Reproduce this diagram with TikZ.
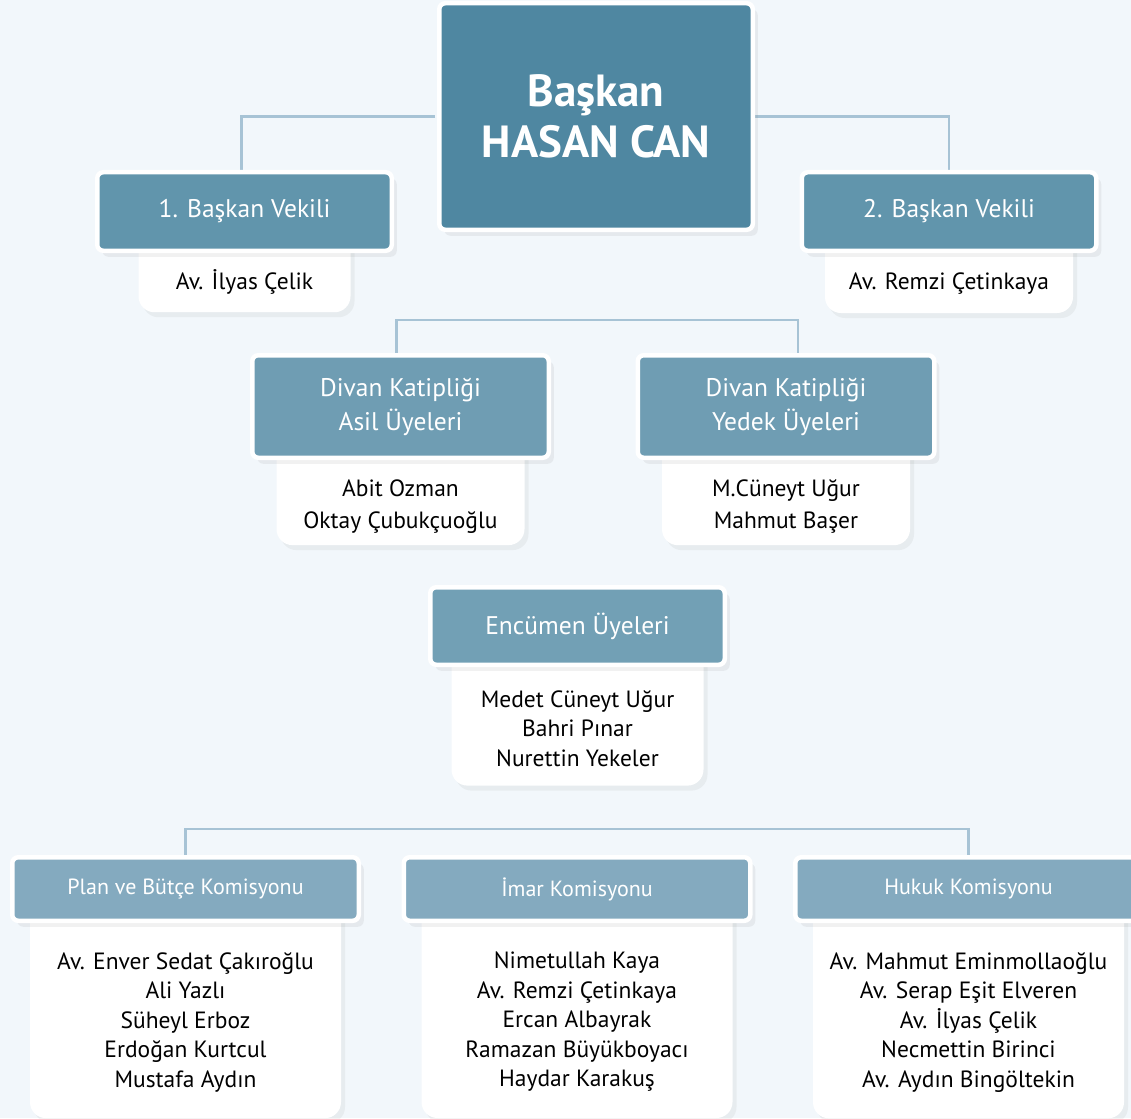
\documentclass[tikz,border=0pt]{standalone}
\usepackage{fontspec}
\setmainfont{PT Sans}
\usepackage{tikz}
\usetikzlibrary{positioning,fit,backgrounds,shadows}
\definecolor{bgblue}{HTML}{F2F7FB}
\definecolor{linkblue}{HTML}{A7C3D5}
\definecolor{chiefblue}{HTML}{4F87A1}
\definecolor{viceblue}{HTML}{6195AC}
\definecolor{clerkblue}{HTML}{6F9DB3}
\definecolor{boardblue}{HTML}{72A0B5}
\definecolor{commblue}{HTML}{84AABF}
\tikzset{
    x=1pt, y=1pt,
    head/.style = {draw=white, line width=4.5pt, rounded corners=6pt, inner sep=0pt, align=center, text=white,
        drop shadow={opacity=0.11, shadow xshift=5pt, shadow yshift=-6pt}},
    card/.style = {fill=white, rounded corners=16pt, inner xsep=0pt,
        drop shadow={opacity=0.09, shadow xshift=4pt, shadow yshift=-5pt}},
    names/.style = {inner sep=0pt, align=center, font=\fontsize{23.5}{29.5}\selectfont},
    headfont/.style = {font=\fontsize{25.5}{34}\selectfont},
    smallfont/.style = {font=\fontsize{22}{26}\selectfont},
    link/.style = {draw=linkblue, line width=2.5pt}
}

\begin{document}
\begin{tikzpicture}
    \useasboundingbox (0,0) rectangle (1131,-1118);
    % Chairman and the two deputies
    \node[head, fill=chiefblue, minimum width=313.5, minimum height=226.5, font=\fontsize{45}{51}\selectfont\bfseries] (baskan) at (596,-116.5) {Başkan\\HASAN CAN};
    \node[head, fill=viceblue, headfont, minimum width=294.5, minimum height=78.5] (vek1) at (244.5,-211.5) {1. Başkan Vekili};
    \node[head, fill=viceblue, headfont, minimum width=294.5, minimum height=78.5] (vek2) at (949,-211.5) {2. Başkan Vekili};
    \node[names] (ilyas) [below=16pt of vek1] {Av. İlyas Çelik};
    \node[names] (remzi) [below=20pt of vek2] {Av. Remzi Çetinkaya};
    % Divan clerks
    \node[head, fill=clerkblue, headfont, minimum width=296.5, minimum height=102.5] (asil) at (400.5,-406.5) {Divan Katipliği\\Asil Üyeleri};
    \node[head, fill=clerkblue, headfont, minimum width=296.5, minimum height=102.5] (yedek) at (786,-406.5) {Divan Katipliği\\Yedek Üyeleri};
    \node[names, font=\fontsize{23.5}{32}\selectfont] (asilnames) [below=20pt of asil] {Abit Ozman\\Oktay Çubukçuoğlu};
    \node[names, font=\fontsize{23.5}{32}\selectfont] (yedeknames) [below=19pt of yedek] {M.Cüneyt Uğur\\Mahmut Başer};
    % Council committee
    \node[head, fill=boardblue, headfont, minimum width=294.5, minimum height=77.5] (encumen) at (577.5,-626) {Encümen Üyeleri};
    \node[names] (encnames) [below=23pt of encumen] {Medet Cüneyt Uğur\\Bahri Pınar\\Nurettin Yekeler};
    % Commissions
    \node[head, fill=commblue, smallfont, minimum width=346.5, minimum height=63.5] (plan) at (185.5,-889) {Plan ve Bütçe Komisyonu};
    \node[head, fill=commblue, smallfont, minimum width=346.5, minimum height=63.5] (imar) at (577,-889) {İmar Komisyonu};
    \node[head, fill=commblue, smallfont, minimum width=346.5, minimum height=63.5] (hukuk) at (968.5,-889) {Hukuk Komisyonu};
    \node[names] (plannames) [below=29pt of plan] {Av. Enver Sedat Çakıroğlu\\Ali Yazlı\\Süheyl Erboz\\Erdoğan Kurtcul\\Mustafa Aydın};
    \node[names] (imarnames) [below=29pt of imar] {Nimetullah Kaya\\Av. Remzi Çetinkaya\\Ercan Albayrak\\Ramazan Büyükboyacı\\Haydar Karakuş};
    \node[names] (hukuknames) [below=29pt of hukuk] {Av. Mahmut Eminmollaoğlu\\Av. Serap Eşit Elveren\\Av. İlyas Çelik\\Necmettin Birinci\\Av. Aydın Bingöltekin};
    \begin{scope}[on background layer]
        \fill[bgblue] (0,0) rectangle (1131,-1118);
        % Connectors
        \path[link] ([xshift=-2]baskan.west) -| ([xshift=-3]vek1.north);
        \path[link] (baskan.east) -| (vek2.north);
        \path[link] ([xshift=-4]asil.north) -- ++(0,33) -| ([xshift=12]yedek.north);
        \path[link] (plan.north) -- ++(0,26) -| (hukuk.north);
        % White cards under the headers
        \node[card, minimum width=212, inner ysep=18pt, fit=(vek1.center)(ilyas)] (ilyascard) {};
        \node[card, minimum width=248, inner ysep=18pt, fit=(vek2.center)(remzi)] (remzicard) {};
        \node[card, minimum width=248, inner ysep=11pt, fit=(asil.center)(asilnames)] (asilcard) {};
        \node[card, minimum width=248, inner ysep=12pt, fit=(yedek.center)(yedeknames)] (yedekcard) {};
        \node[card, minimum width=252, inner ysep=19pt, fit=(encumen.center)(encnames)] (enccard) {};
        \node[card, minimum width=311, inner ysep=26pt, fit=(plan.center)(plannames)] (plancard) {};
        \node[card, minimum width=311, inner ysep=26pt, fit=(imar.center)(imarnames)] (imarcard) {};
        \node[card, minimum width=311, inner ysep=26pt, fit=(hukuk.center)(hukuknames)] (hukukcard) {};
    \end{scope}
\end{tikzpicture}
\end{document}
